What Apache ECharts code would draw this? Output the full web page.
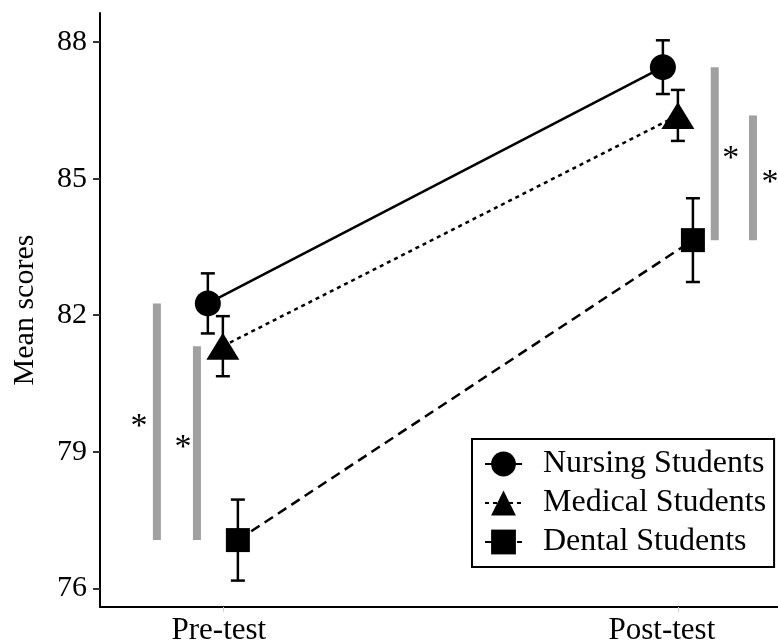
<!DOCTYPE html>
<html>
<head>
<meta charset="utf-8">
<script src="https://cdn.jsdelivr.net/npm/echarts@6/dist/echarts.min.js"></script>
<style>
  html, body { margin: 0; padding: 0; background: #fff; }
  #chart { width: 778px; height: 644px; }
</style>
</head>
<body>
<div id="chart"></div>
<script>
// ---- data ----
const times = ['Pre-test', 'Post-test'];
const groups = ['Nursing Students', 'Medical Students', 'Dental Students'];
const nursingMean = [82.26, 87.45];
const nursingErr  = [0.66, 0.59];
const medicalMean = [81.32, 86.39];
const medicalErr  = [0.66, 0.56];
const dentalMean  = [77.06, 83.65];
const dentalErr   = [0.89, 0.92];
const yTicks = [76, 79, 82, 85, 88];
// significant comparisons: [time index, group A, group B]
const comparisons = [[0, 0, 2], [0, 1, 2], [1, 0, 2], [1, 1, 2]];

// ---- styles / layout ----
const FONT = 'Liberation Serif';
const means = [nursingMean, medicalMean, dentalMean];
const errs = [nursingErr, medicalErr, dentalErr];
const dodge = [-0.033, 0, 0.033];
const symbols = ['circle', 'triangle', 'rect'];
const symbolSizes = [26, [33, 27], 24];
const lineTypes = ['solid', [4, 4], [10, 6]];
// x offset (axis units) of each comparison bar and side of asterisk
const compX = [-0.145, -0.057, 0.081, 0.165];
const starDx = [-18, -14, 16, 17];

const lineSeries = groups.map((g, k) => ({
  type: 'line',
  name: g,
  data: times.map((t, i) => [i + 1 + dodge[k], means[k][i]]),
  symbol: symbols[k],
  symbolSize: symbolSizes[k],
  showAllSymbol: true,
  lineStyle: { color: '#000', width: 2.5, type: lineTypes[k] },
  itemStyle: { color: '#000' },
  emphasis: { disabled: true },
  z: 3
}));

const errData = [];
groups.forEach((g, k) => times.forEach((t, i) => {
  errData.push([i + 1 + dodge[k], means[k][i], errs[k][i]]);
}));

const errSeries = {
  type: 'custom',
  data: errData,
  z: 4,
  silent: true,
  renderItem(params, api) {
    const x = api.value(0), m = api.value(1), s = api.value(2);
    const top = api.coord([x, m + s]);
    const bot = api.coord([x, m - s]);
    const hw = 7;
    const st = { stroke: '#000', lineWidth: 2.5 };
    return {
      type: 'group',
      children: [
        { type: 'line', shape: { x1: top[0], y1: top[1], x2: bot[0], y2: bot[1] }, style: st },
        { type: 'line', shape: { x1: top[0] - hw, y1: top[1], x2: top[0] + hw, y2: top[1] }, style: st },
        { type: 'line', shape: { x1: bot[0] - hw, y1: bot[1], x2: bot[0] + hw, y2: bot[1] }, style: st }
      ]
    };
  }
};

const compData = comparisons.map((c, j) => [c[0] + 1 + compX[j], means[c[1]][c[0]], means[c[2]][c[0]], starDx[j]]);
const compSeries = {
  type: 'custom',
  data: compData,
  z: 2,
  silent: true,
  renderItem(params, api) {
    const x = api.value(0);
    const p1 = api.coord([x, api.value(1)]);
    const p2 = api.coord([x, api.value(2)]);
    const w = 8;
    const yTop = Math.min(p1[1], p2[1]);
    const h = Math.abs(p2[1] - p1[1]);
    return {
      type: 'group',
      children: [
        { type: 'rect', shape: { x: p1[0] - w / 2, y: yTop, width: w, height: h }, style: { fill: '#a0a0a0' } },
        { type: 'text', x: p1[0] + api.value(3), y: yTop + h / 2 + 5,
          style: { text: '*', fontFamily: FONT, fontSize: 34, fill: '#000', align: 'center', verticalAlign: 'middle' } }
      ]
    };
  }
};

const chart = echarts.init(document.getElementById('chart'), null, { renderer: 'canvas' });
chart.setOption({
  animation: false,
  backgroundColor: '#fff',
  grid: { left: 100, right: 0, top: 13, bottom: 37, containLabel: false, outerBoundsMode: 'none' },
  xAxis: {
    type: 'value',
    min: 0.73,
    max: 2.22,
    splitLine: { show: false },
    axisLine: { show: true, lineStyle: { color: '#000', width: 2 } },
    axisTick: { show: true, customValues: [1, 2], length: 5, lineStyle: { color: '#d0d0d0', width: 1 } },
    axisLabel: {
      customValues: [1, 2],
      formatter: v => (Math.round(v) === 1 ? '{a|' : '{b|') + times[Math.round(v) - 1] + '}',
      rich: {
        a: { fontFamily: FONT, fontSize: 31, color: '#000', padding: [0, 8, 0, 0] },
        b: { fontFamily: FONT, fontSize: 31, color: '#000', padding: [0, 32, 0, 0] }
      },
      fontFamily: FONT, fontSize: 31, color: '#000', margin: 8
    }
  },
  yAxis: {
    type: 'value',
    min: 75.59,
    max: 88.64,
    name: 'Mean scores',
    nameLocation: 'middle',
    nameGap: 60,
    nameTextStyle: { fontFamily: FONT, fontSize: 30, color: '#000' },
    splitLine: { show: false },
    axisLine: { show: true, lineStyle: { color: '#000', width: 2 } },
    axisTick: { show: true, customValues: yTicks, length: 7, lineStyle: { color: '#333', width: 2 } },
    axisLabel: { customValues: yTicks, fontFamily: FONT, fontSize: 30, color: '#000', margin: 13 }
  },
  legend: {
    data: groups,
    orient: 'vertical',
    left: 472,
    top: 439,
    borderColor: '#000',
    borderWidth: 2,
    borderRadius: 0,
    backgroundColor: '#fff',
    padding: [9, 8, 9, 12],
    itemWidth: 37,
    itemHeight: 31,
    itemGap: 7,
    selectedMode: false,
    textStyle: { fontFamily: FONT, fontSize: 32, color: '#000', padding: [0, 0, 0, 16] }
  },
  series: [compSeries].concat(lineSeries, [errSeries])
});
</script>
</body>
</html>
